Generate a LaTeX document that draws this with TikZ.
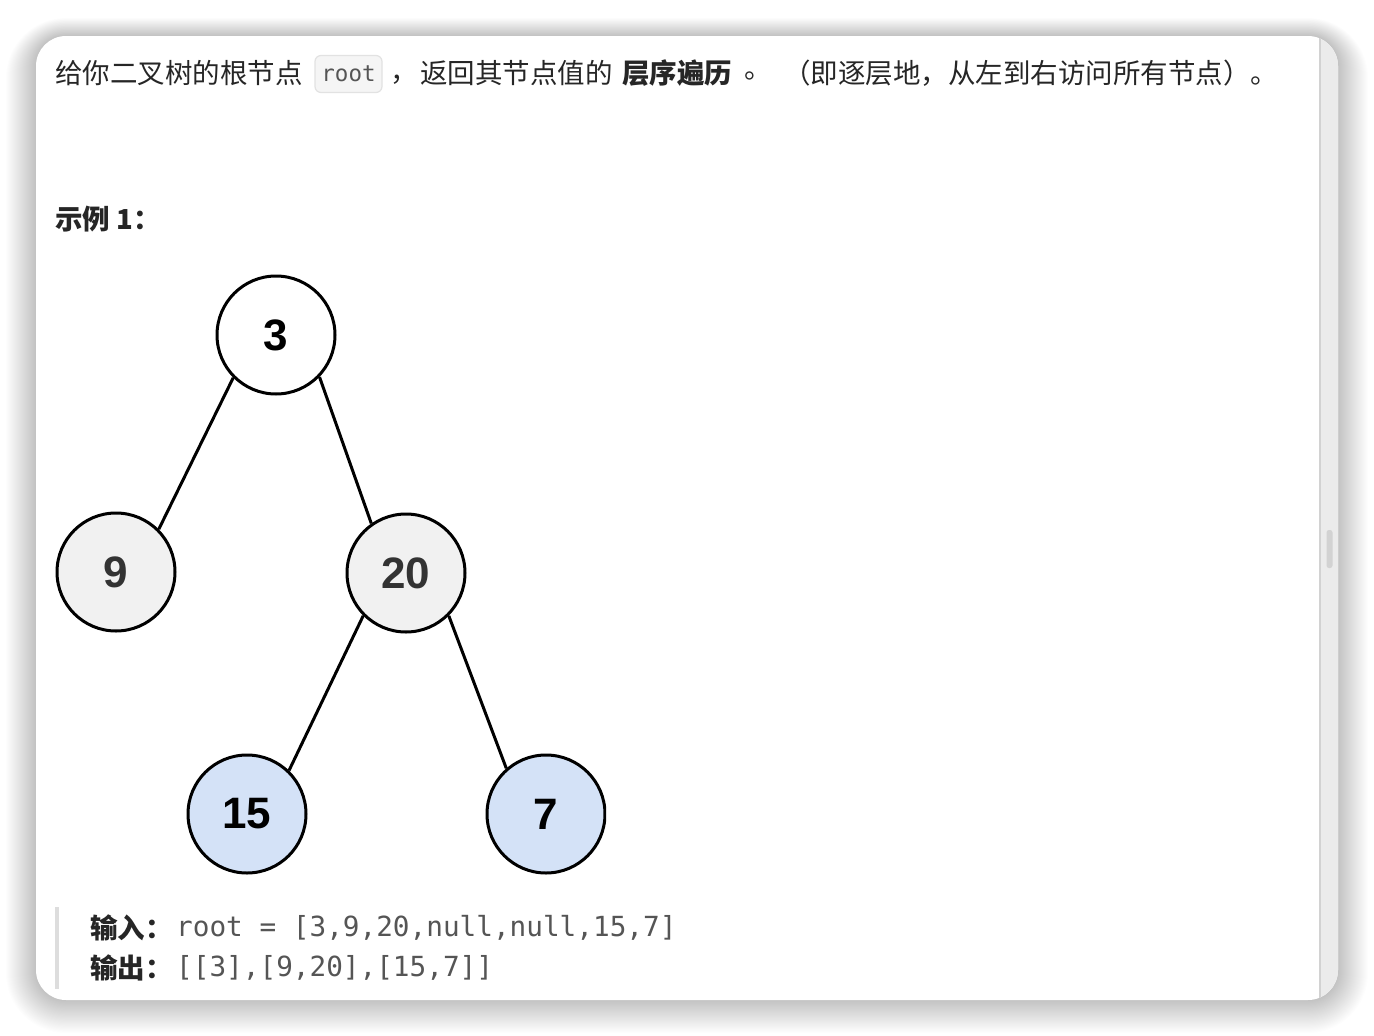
\documentclass[tikz,border=0pt]{standalone}
\usepackage{fontspec}
\setmainfont{Noto Sans CJK SC}
\newfontfamily\cjk{Noto Sans CJK SC}
\newfontfamily\monofont{DejaVu Sans Mono}
\newfontfamily\numfont{Liberation Sans}
\definecolor{txt}{HTML}{262626}
\definecolor{mono}{HTML}{555555}
\definecolor{graynode}{HTML}{F1F1F1}
\definecolor{bluenode}{HTML}{D4E2F7}
\definecolor{strip}{HTML}{EBEBEB}
\definecolor{divider}{HTML}{D2D2D2}
\definecolor{codebg}{HTML}{F5F5F5}
\definecolor{codeborder}{HTML}{E2E2E2}
\definecolor{quotebar}{HTML}{DDDDDD}
\begin{document}
\begin{tikzpicture}[x=1pt,y=-1pt,
  body/.style={anchor=west,inner sep=0pt,text=txt,font=\fontsize{27.5}{30}\selectfont\cjk},
  bodybold/.style={body,font=\fontsize{27.5}{30}\selectfont\cjk\bfseries},
  code/.style={anchor=west,inner sep=0pt,text=mono,font=\fontsize{27.7}{30}\selectfont\monofont},
  treenode/.style={circle,draw=black,line width=3pt,minimum size=118pt,inner sep=0pt,
    font=\fontsize{44}{46}\selectfont\numfont\bfseries},
  treeedge/.style={draw=black,line width=3pt}]
\useasboundingbox (0,0) rectangle (1374,1036);
\fill[white] (0,0) rectangle (1374,1036);
% soft shadow
\foreach \i in {1,...,30}{
  \fill[black,opacity=0.008,rounded corners=30+\i] (36-\i,36-0.6*\i) rectangle (1338+\i,1000+1.1*\i);
}
% card
\fill[white,rounded corners=30] (36,36) rectangle (1338,1000);
\begin{scope}
  \clip[rounded corners=30] (36,36) rectangle (1338,1000);
  \fill[strip] (1321,0) rectangle (1400,1036);
\end{scope}
\draw[divider,line width=2pt] (1320,38) -- (1320,998);
\fill[divider,rounded corners=2.5] (1326.5,530) rectangle (1332.5,568);
% first line
\node[body] (l1a) at (55,73) {给你二叉树的根节点};
\node[draw=codeborder,fill=codebg,rounded corners=6,line width=1.2pt,minimum width=67pt,minimum height=37pt,inner sep=0pt,text=mono,font=\fontsize{22.5}{24}\selectfont\monofont] (rootcode) at (348.5,74) {root};
\node[body] (l1b) at (390,80) {，};
\node[body] (l1c) at (420,73) {返回其节点值的};
\node[bodybold] (l1d) at (622,73) {层序遍历};
\node[body] (l1e) at (744,76) {。};
\node[body] (l1f) at (783,73) {（即逐层地，从左到右访问所有节点）。};
% example title
\node[bodybold] (ex) at (55,219) {示例 1：};
% tree
\node[treenode,fill=white] (n3) at (276,335) {3};
\node[treenode,fill=graynode,text=black!80] (n9) at (116,572) {9};
\node[treenode,fill=graynode,text=black!80] (n20) at (406,573) {20};
\node[treenode,fill=bluenode] (n15) at (247,814) {15};
\begin{scope}
  \clip (0,0) rectangle (606,1036);
  \node[treenode,fill=bluenode] (n7) at (546,814) {7};
\end{scope}
\draw[treeedge] (n3.225) -- (n9.45);
\draw[treeedge] (n3.316) -- (n20.125);
\draw[treeedge] (n20.225) -- (n15.46);
\draw[treeedge] (n20.315) -- (n7.131);
% quote block
\fill[quotebar] (55,907) rectangle (59,989);
\node[bodybold] (inlabel) at (90,928) {输入：};
\node[code] (inval) at (176,928) {root = [3,9,20,null,null,15,7]};
\node[bodybold] (outlabel) at (90,968) {输出：};
\node[code] (outval) at (176,968) {[[3],[9,20],[15,7]]};
\end{tikzpicture}
\end{document}
